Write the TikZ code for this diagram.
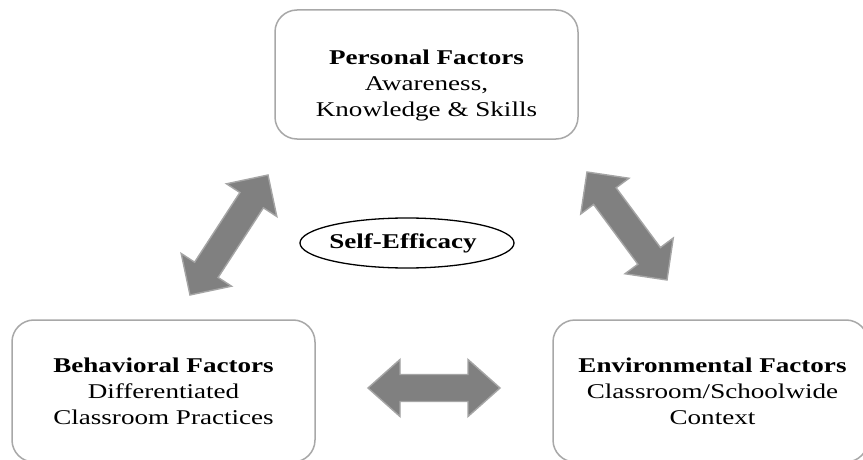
\documentclass[tikz,border=0pt]{standalone}
\usepackage{fontspec}
\setmainfont[FakeStretch=1.29]{Liberation Serif}
\usetikzlibrary{calc,shapes.geometric}

% Block double-headed arrow between two named points:
% #1,#2 end points, #3 head length, #4 head half-width, #5 shaft half-width
\newcommand\dblfatarrow[5]{%
  \path[fatarrow]
    (#1)
    -- ($ ($(#1)!#3!(#2)$)!#4!90:(#2) $)
    -- ($ ($(#1)!#3!(#2)$)!#5!90:(#2) $)
    -- ($ ($(#2)!#3!(#1)$)!#5!-90:(#1) $)
    -- ($ ($(#2)!#3!(#1)$)!#4!-90:(#1) $)
    -- (#2)
    -- ($ ($(#2)!#3!(#1)$)!#4!90:(#1) $)
    -- ($ ($(#2)!#3!(#1)$)!#5!90:(#1) $)
    -- ($ ($(#1)!#3!(#2)$)!#5!-90:(#2) $)
    -- ($ ($(#1)!#3!(#2)$)!#4!-90:(#2) $)
    -- cycle;}

\definecolor{boxline}{RGB}{168,168,168}
\definecolor{arrowfill}{RGB}{128,128,128}
\definecolor{arrowline}{RGB}{165,165,165}

\tikzset{
  factorbox/.style={draw=boxline, line width=1.5pt, rounded corners=22pt,
    fill=white, inner sep=0pt},
  factortext/.style={align=center, inner sep=0pt, anchor=north,
    font=\fontsize{21pt}{26pt}\selectfont},
  fatarrow/.style={fill=arrowfill, draw=arrowline, line width=1.4pt,
    line join=miter},
  hub/.style={ellipse, draw=black, line width=1.3pt, inner sep=0pt}
}

\begin{document}
\begin{tikzpicture}[x=1pt, y=-1pt]
  \useasboundingbox (0,0) rectangle (863,460);
  \clip (0,0) rectangle (863,460);
  \fill[white] (0,0) rectangle (863,460);

  % three factor boxes
  \node[factorbox, minimum width=303pt, minimum height=129pt] (pbox) at (426.5,74.5) {};
  \node[factorbox, minimum width=303pt, minimum height=142pt] (bbox) at (163.5,391) {};
  \node[factorbox, minimum width=315pt, minimum height=142pt] (ebox) at (710.5,391) {};

  \node[factortext] (ptext) at (426.5,50) {\textbf{Personal Factors}\\Awareness,\\Knowledge \& Skills};
  \node[factortext] (btext) at (163.5,358) {\textbf{Behavioral Factors}\\Differentiated\\Classroom Practices};
  \node[factortext] (etext) at (712.5,358) {\textbf{Environmental Factors}\\Classroom/Schoolwide\\Context};

  % central self-efficacy ellipse
  \node[hub, minimum width=214pt, minimum height=50pt] (hub) at (407,243) {};
  \node[inner sep=0pt, font=\fontsize{21pt}{26pt}\selectfont\bfseries] (hubtext) at (403,243) {Self-Efficacy};

  % reciprocal links
  \coordinate (pb1) at (190,295);
  \coordinate (pb2) at (268,175);
  \coordinate (pe1) at (587,172);
  \coordinate (pe2) at (667,280);
  \coordinate (be1) at (368,388);
  \coordinate (be2) at (500,388);

  \dblfatarrow{pb1}{pb2}{30pt}{30pt}{14pt}
  \dblfatarrow{pe1}{pe2}{30pt}{30pt}{14pt}
  \dblfatarrow{be1}{be2}{32pt}{28.5pt}{13.5pt}
\end{tikzpicture}
\end{document}
